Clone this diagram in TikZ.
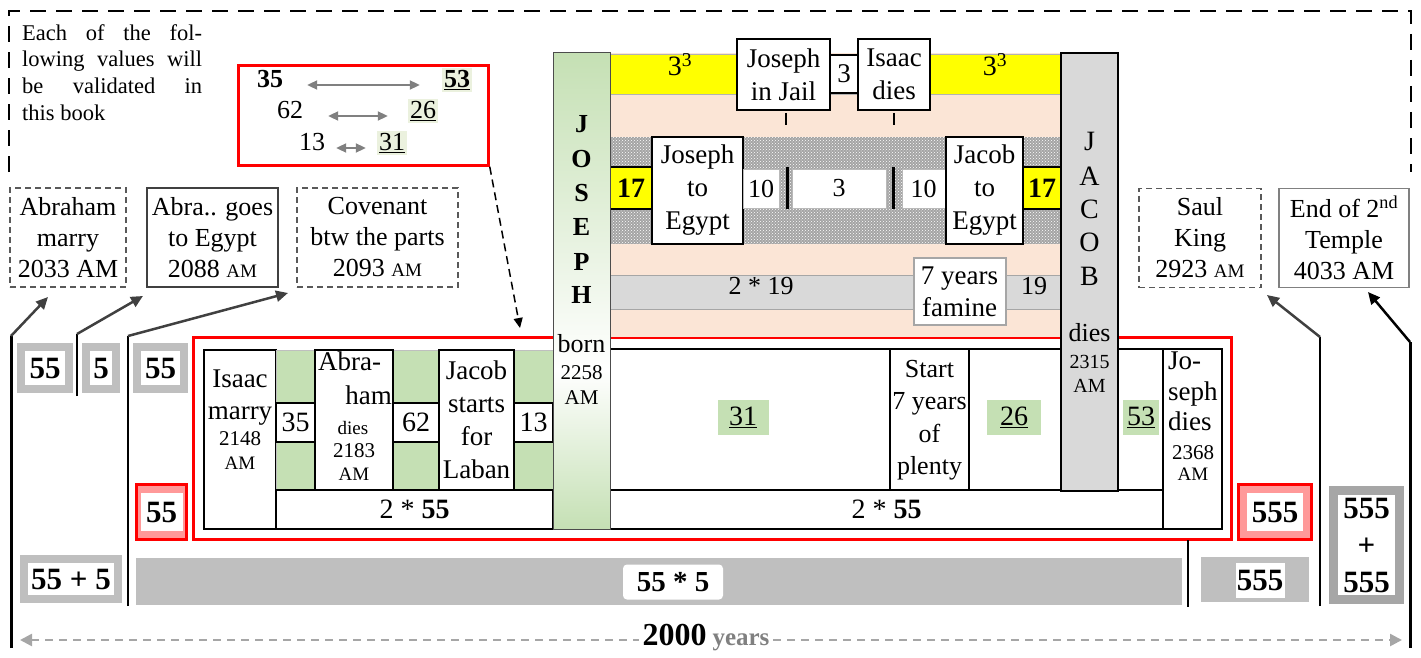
\documentclass[tikz,border=0pt]{standalone}
\usepackage{fontspec}
\setmainfont{Liberation Serif}
\usetikzlibrary{patterns,arrows.meta}
\definecolor{grn}{HTML}{C5E0B4}
\definecolor{lgrn}{HTML}{EBF1DE}
\definecolor{peach}{HTML}{FBE5D6}
\definecolor{yel}{HTML}{FFFF00}
\definecolor{bandg}{HTML}{D9D9D9}
\definecolor{frm}{HTML}{BFBFBF}
\definecolor{frmd}{HTML}{A6A6A6}
\definecolor{pinkf}{HTML}{FF9999}
\definecolor{dgray}{HTML}{595959}
\definecolor{agray}{HTML}{404040}
\definecolor{mgray}{HTML}{808080}
\definecolor{dotg}{HTML}{A4A4A4}
\newcommand{\myfs}[1]{\fontsize{#1}{#1}\selectfont}
\newcommand{\smam}{{\myfs{19}AM}}
\begin{document}
\begin{tikzpicture}[x=1pt,y=-1pt,
  lb/.style={inner sep=0,anchor=mid,font=\myfs{27}},
  lbm/.style={inner sep=0,anchor=mid,font=\myfs{21}},
  lbs/.style={inner sep=0,anchor=mid,font=\myfs{19}},
  jl/.style={inner sep=0,anchor=mid,font=\bfseries\myfs{26}},
  kl/.style={inner sep=0,anchor=mid,font=\myfs{27}},
  bk/.style={draw=black,line width=1.3pt,fill=white,inner sep=0},
  mb/.style={bk,align=center,font=\fontsize{27}{33}\selectfont},
  nb/.style={draw=gray!55,line width=1pt,fill=white,inner sep=0,font=\myfs{26}},
  hl/.style={fill=grn,inner ysep=7pt,anchor=mid,font=\myfs{28}},
  tl/.style={fill=lgrn,inner sep=2pt,anchor=mid,font=\myfs{26}},
  tn/.style={inner sep=0,anchor=mid,font=\myfs{26}},
  gfr/.style={draw=frm,line width=8pt,fill=white,inner sep=0,font=\bfseries\myfs{31}},
  dbox/.style={align=center,font=\fontsize{26}{31}\selectfont,inner sep=0,minimum height=99pt},
  dsh/.style={draw=dgray,line width=1.5pt,dash pattern=on 6pt off 4pt},
  garr/.style={draw=agray,line width=2.5pt,-{Triangle[length=12pt,width=11pt]}},
  karr/.style={draw=black,line width=2.5pt,-{Triangle[length=12pt,width=11pt]}},
  tarr/.style={draw=mgray,line width=2pt,{Triangle[length=10pt,width=9pt]}-{Triangle[length=10pt,width=9pt]}},
  vl/.style={draw=black,line width=3pt},
]
\useasboundingbox (0,0) rectangle (1421,658);

% outer dashed frame
\coordinate (o1) at (9,172); \coordinate (o2) at (9,11);
\coordinate (o3) at (1411,11); \coordinate (o4) at (1411,172);
\draw[line width=2.5pt,dash pattern=on 16pt off 10pt] (o1) -- (o2) -- (o3) -- (o4);

% top-left note
\node[lbm,font=\myfs{22.5},anchor=mid west] (p1) at (22,38) {\makebox[180pt][s]{Each of the fol-}};
\node[lbm,font=\myfs{22.5},anchor=mid west] (p2) at (22,64) {\makebox[180pt][s]{lowing values will}};
\node[lbm,font=\myfs{22.5},anchor=mid west] (p3) at (22,91) {\makebox[180pt][s]{be validated in}};
\node[lbm,font=\myfs{22.5},anchor=mid west] (p4) at (22,118) {this book};

% top red box
\node[draw=red,line width=2.5pt,minimum width=250pt,minimum height=100pt,inner sep=0] (tred) at (363.5,115.5) {};
\node[tn,font=\bfseries\myfs{26}] (t35) at (270,85) {35};
\node[tl,font=\bfseries\myfs{26}] (t53) at (457,85) {\underline{53}};
\node[tn] (t62) at (290,116) {62};
\node[tl] (t26) at (423,116) {\underline{26}};
\node[tn] (t13) at (312,148) {13};
\node[tl] (t31) at (392,148) {\underline{31}};
\draw[tarr,shorten <=24pt,shorten >=22pt] (t35.mid east) -- (t53.mid west);
\draw[tarr,shorten <=25pt,shorten >=20pt] (t62.mid east) -- (t26.mid west);
\draw[tarr,shorten <=11pt,shorten >=11pt] (t13.mid east) -- (t31.mid west);
\coordinate (dend) at (520,328);
\draw[line width=1.5pt,dash pattern=on 8pt off 5pt,-{Triangle[length=10pt,width=9pt]}] (tred.south east) -- (dend);

% date boxes
\node[dbox,dsh,minimum width=116pt] (d1) at (68,237.5) {Abraham\\marry\\2033 AM};
\node[dbox,draw=agray,line width=1.8pt,minimum width=131pt] (d2) at (212.5,237.5) {Abra.. goes\\to Egypt\\2088 \smam};
\node[dbox,dsh,minimum width=161pt] (d3) at (377.5,237.5) {Covenant\\btw the parts\\2093 \smam};
\node[dbox,dsh,minimum width=122pt] (d4) at (1200,238) {Saul\\King\\2923 \smam};
\node[dbox,draw=mgray,line width=1.8pt,minimum width=130pt] (d5) at (1344,238) {End of 2\textsuperscript{nd}\\Temple\\4033 AM};

% vertical lines and arrows
\coordinate (v1t) at (11,336); \coordinate (v1b) at (11,648); \coordinate (a1) at (48,297);
\coordinate (v2t) at (77,334); \coordinate (v2b) at (77,396); \coordinate (a2) at (143,296);
\coordinate (v3t) at (128,336); \coordinate (v3b) at (128,606); \coordinate (a3) at (288,293);
\coordinate (v4t) at (1320,337); \coordinate (v4b) at (1320,606); \coordinate (a4) at (1267,295);
\coordinate (v5t) at (1410,342); \coordinate (v5b) at (1410,648); \coordinate (a5) at (1368,292);
\draw[vl] (v1b) -- (v1t); \draw[vl,line width=2.5pt] (v2b) -- (v2t);
\draw[vl,line width=2.5pt] (v3b) -- (v3t); \draw[vl,line width=2.5pt] (v4b) -- (v4t);
\draw[vl] (v5b) -- (v5t);
\draw[garr] (v1t) -- (a1); \draw[garr] (v2t) -- (a2); \draw[garr] (v3t) -- (a3);
\draw[garr] (v4t) -- (a4); \draw[karr] (v5t) -- (a5);

% lower red frame
\draw[red,line width=3pt] (193,337) rectangle (1231,539);

% upper central block
\fill[peach] (610,53) rectangle (1061,337);
\filldraw[fill=yel,draw=gray!60,line width=0.8pt] (610,54) rectangle (1061,94);
\node[font=\myfs{28},inner sep=0,anchor=mid] (c3a) at (680,73) {3\textsuperscript{3}};
\node[font=\myfs{28},inner sep=0,anchor=mid] (c3b) at (995,73) {3\textsuperscript{3}};
\node[mb,minimum width=93pt,minimum height=71pt] (jail) at (783.5,74.5) {Joseph\\in Jail};
\node[mb,minimum width=28pt,minimum height=38pt,font=\myfs{27}] (three) at (844,74) {3};
\node[mb,minimum width=72pt,minimum height=71pt] (idies) at (894,74.5) {Isaac\\dies};
\draw[line width=1.5pt] (786,113) -- (786,125);
\draw[line width=1.5pt] (894,113) -- (894,125);

\fill[dotg] (610,137) rectangle (1061,244);
\fill[pattern=crosshatch dots,pattern color=white] (610,137) rectangle (1061,244);
\node[bk,fill=yel,minimum width=42pt,minimum height=42pt,font=\bfseries\myfs{28}] (s17a) at (631,188) {17};
\node[mb,minimum width=91pt,minimum height=107pt] (jte) at (697.5,190.5) {Joseph\\to\\Egypt};
\node[nb,minimum width=36pt,minimum height=39pt] (ten1) at (761,188.5) {10};
\node[nb,minimum width=94pt,minimum height=39pt] (thr) at (839,188.5) {3};
\node[nb,minimum width=43pt,minimum height=39pt] (ten2) at (923.5,188.5) {10};
\draw[line width=3pt] (787,167) -- (787,209);
\draw[line width=3pt] (893,167) -- (893,209);
\node[mb,minimum width=77pt,minimum height=107pt] (jce) at (984.5,190.5) {Jacob\\to\\Egypt};
\node[bk,fill=yel,minimum width=38pt,minimum height=42pt,font=\bfseries\myfs{28}] (s17b) at (1042,188) {17};

\filldraw[fill=bandg,draw=gray!70,line width=1pt] (610,275) rectangle (1061,309);
\node[kl,font=\myfs{26}] (b219) at (761,292) {2 * 19};
\node[kl,font=\myfs{26}] (b19) at (1034,292) {19};
\node[nb,draw=gray!70,line width=2pt,minimum width=92pt,minimum height=67pt,align=center,font=\fontsize{27}{32}\selectfont] (fam) at (959.5,291.5) {7 years\\famine};

% lower left block
\draw[bk] (204,350) rectangle (276,529);
\node[lb] (im1) at (240,385) {Isaac};
\node[lb] (im2) at (240,417) {marry};
\node[lbm] (im3) at (240,443) {2148};
\node[lbs] (im4) at (240,467) {AM};
\filldraw[fill=grn,draw=gray!50,line width=0.8pt] (276,350) rectangle (315,490);
\filldraw[fill=grn,draw=gray!50,line width=0.8pt] (393,350) rectangle (439,490);
\filldraw[fill=grn,draw=gray!50,line width=0.8pt] (514,350) rectangle (553,490);
\node[bk,minimum width=39pt,minimum height=39pt,font=\myfs{28}] (n35) at (295.5,422.5) {35};
\node[bk,minimum width=46pt,minimum height=39pt,font=\myfs{28}] (n62) at (416,422.5) {62};
\node[bk,minimum width=39pt,minimum height=39pt,font=\myfs{28}] (n13) at (533.5,422.5) {13};
\draw[bk] (315,350) rectangle (393,490);
\node[lb,anchor=mid west] (ab1) at (318,368) {Abra-};
\node[lb,anchor=mid east] (ab2) at (392,402) {ham};
\node[lbs] (ab3) at (353,432) {dies};
\node[lbm] (ab4) at (354,455) {2183};
\node[lbs] (ab5) at (354,478) {AM};
\node[mb,minimum width=75pt,minimum height=140pt] (jsl) at (476.5,420) {Jacob\\starts\\for\\Laban};
\node[bk,minimum width=277pt,minimum height=39pt,font=\myfs{28}] (tw1) at (414.5,509.5) {2 * \textbf{55}};

% lower right block
\draw[bk] (610,349) rectangle (1163,490);
\node[hl,inner xsep=11.5pt] (g31) at (743,423) {\underline{31}};
\node[mb,minimum width=79pt,minimum height=142pt,font=\fontsize{26}{32.5}\selectfont] (plenty) at (929.5,420) {Start\\7 years\\of\\plenty};
\node[hl,inner xsep=13pt] (g26) at (1014,423) {\underline{26}};
\node[hl,inner xsep=4pt] (g53) at (1141,423) {\underline{53}};
\node[bk,minimum width=553pt,minimum height=39pt,font=\myfs{28}] (tw2) at (886.5,509.5) {2 * \textbf{55}};
\draw[bk] (1163,349) rectangle (1222,529);
\node[lb,anchor=mid west] (jd1) at (1168,367) {Jo-};
\node[lb,anchor=mid west] (jd2) at (1168,398) {seph};
\node[lb,anchor=mid west] (jd3) at (1168,428) {dies};
\node[lbm] (jd4) at (1193,457) {2368};
\node[lbs] (jd5) at (1193,478) {AM};

% JOSEPH column
\shade[top color=grn,bottom color=white] (553,53) rectangle (610,370);
\shade[top color=white,bottom color=grn] (553,370) rectangle (610,529);
\draw[black!70,line width=1pt] (553,53) rectangle (610,529);
\node[jl] (jo1) at (581.5,130) {J};
\node[jl] (jo2) at (581.5,165) {O};
\node[jl] (jo3) at (581.5,199) {S};
\node[jl] (jo4) at (581.5,233) {E};
\node[jl] (jo5) at (581.5,268) {P};
\node[jl] (jo6) at (581.5,301) {H};
\node[kl,font=\myfs{26}] (jo7) at (581.5,350) {born};
\node[lbm] (jo8) at (581.5,377) {2258};
\node[lbm] (jo9) at (581.5,402) {AM};

% JACOB column
\filldraw[fill=bandg,draw=black,line width=1.3pt] (1061,53) rectangle (1118,491);
\node[kl,font=\myfs{28}] (ja1) at (1089.5,148) {J};
\node[kl,font=\myfs{28}] (ja2) at (1089.5,183) {A};
\node[kl,font=\myfs{28}] (ja3) at (1089.5,216) {C};
\node[kl,font=\myfs{28}] (ja4) at (1089.5,249) {O};
\node[kl,font=\myfs{28}] (ja5) at (1089.5,283) {B};
\node[kl,font=\myfs{26}] (ja6) at (1089.5,339) {dies};
\node[lbm,font=\myfs{20}] (ja7) at (1089.5,366) {2315};
\node[lbm,font=\myfs{20}] (ja8) at (1089.5,390) {AM};

% left frames
\node[gfr,minimum width=48pt,minimum height=42pt] (f1) at (45,368) {55};
\node[gfr,minimum width=30pt,minimum height=42pt] (f2) at (101,368) {5};
\node[gfr,minimum width=47pt,minimum height=42pt] (f3) at (160.5,368) {55};
\node[fill=pinkf,draw=red,line width=3pt,minimum width=50pt,minimum height=55pt,inner sep=0] (r1) at (161.5,512) {};
\node[fill=white,inner sep=0,minimum width=42pt,minimum height=38pt,font=\bfseries\myfs{31}] (r1t) at (r1) {55};
\node[gfr,minimum width=94pt,minimum height=40pt] (f4) at (71,579) {55 + 5};

% right frames
\node[fill=pinkf,draw=red,line width=3pt,minimum width=73pt,minimum height=55pt,inner sep=0] (r2) at (1275,512) {};
\node[fill=white,inner sep=0,minimum width=56pt,minimum height=38pt,font=\bfseries\myfs{31}] (r2t) at (r2) {555};
\coordinate (tl1) at (1188,540); \coordinate (tl2) at (1188,607);
\draw[line width=1.5pt] (tl1) -- (tl2);
\fill[frm] (1201,557) rectangle (1309,602);
\node[fill=white,inner sep=0,minimum width=49pt,minimum height=35pt,font=\bfseries\myfs{31}] (g555) at (1260,580) {555};
\node[draw=frmd,line width=9pt,fill=white,minimum width=66pt,minimum height=109pt,align=center,font=\bfseries\fontsize{31}{37}\selectfont,inner sep=0] (dd) at (1366.5,545) {555\\+\\555};

% bottom bar
\fill[frm] (136,558) rectangle (1182,605);
\node[fill=white,rounded corners=4pt,inner sep=0,minimum width=100pt,minimum height=35pt,font=\bfseries\myfs{29}] (m55) at (673,582) {55 * 5};

% 2000 years
\coordinate (dl) at (20,640); \coordinate (dr) at (1402,640);
\draw[draw=frmd,line width=2.5pt,dash pattern=on 8pt off 6pt,{Triangle[length=12pt,width=12pt]}-{Triangle[length=12pt,width=12pt]}] (dl) -- (dr);
\node[fill=white,inner xsep=4pt,inner ysep=0,anchor=mid] (yrs) at (706,643) {{\bfseries\myfs{32}2000}\hspace{6pt}{\color{mgray}\bfseries\myfs{25}years}};
\end{tikzpicture}
\end{document}
